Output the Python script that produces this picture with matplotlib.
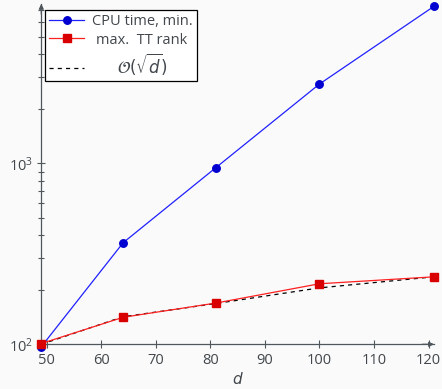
import matplotlib
matplotlib.use("Agg")
import matplotlib.pyplot as plt
from matplotlib.ticker import LogLocator, NullFormatter, FixedLocator

d_values = [49, 64, 81, 100, 121]
cpu_time = [97, 364, 946, 2742, 7370]
tt_rank = [101, 141, 169, 216, 236]
sqrt_ref = [100, 142, 168, 205, 236]
x_ticks = [50, 60, 70, 80, 90, 100, 110, 120]
labels = ["CPU time, min.", "max.  TT rank", r"$\mathcal{O}(\sqrt{d})$"]

plt.rcParams['font.family'] = ['Open Sans', 'DejaVu Sans']
plt.rcParams['mathtext.fontset'] = 'dejavusans'

bg = '#fafafa'
axc = '#50575c'
txtc = '#41474c'

fig = plt.figure(figsize=(4.42, 3.89), dpi=100, facecolor=bg)
ax = fig.add_axes([41.3/442, 1-344.3/389, (434-41.3)/442, (344.3-3.9)/389])
ax.set_facecolor(bg)

ax.plot(d_values, cpu_time, color='#2020ff', lw=0.9, marker='o', ms=5.4,
        mfc='#0000d0', mec='#0000d0', label=labels[0], zorder=3, clip_on=False)
ax.plot(d_values, tt_rank, color='#ff2020', lw=0.9, marker='s', ms=5.2,
        mfc='#d80000', mec='#d80000', label=labels[1], zorder=3, clip_on=False)
ax.plot(d_values, sqrt_ref, color='black', lw=0.9, ls=(0, (3.3, 3.3)),
        label=labels[2], zorder=2, clip_on=False)

ax.set_yscale('log')
ax.set_xlim(49, 121)
ax.set_ylim(100, 7600)
ax.xaxis.set_major_locator(FixedLocator(x_ticks))
ax.yaxis.set_major_locator(LogLocator(base=10))
ax.yaxis.set_minor_locator(LogLocator(base=10, subs=range(2, 10)))
ax.yaxis.set_minor_formatter(NullFormatter())

for s in ['top', 'right']:
    ax.spines[s].set_visible(False)
for s in ['left', 'bottom']:
    ax.spines[s].set_color(axc)
    ax.spines[s].set_linewidth(0.9)

ax.tick_params(axis='both', which='major', direction='inout', length=6,
               width=0.8, color=axc, labelcolor=txtc, labelsize=10.5, pad=3)
ax.tick_params(axis='y', which='minor', direction='inout', length=4,
               width=0.8, color=axc)

# axis arrows
ax.annotate('', xy=(1.0, 0), xycoords='axes fraction', xytext=(0.97, 0),
            arrowprops=dict(arrowstyle='-|>', color=axc, lw=0.9,
                            mutation_scale=7, shrinkA=0, shrinkB=0))
ax.annotate('', xy=(0, 1.0), xycoords='axes fraction', xytext=(0, 0.97),
            arrowprops=dict(arrowstyle='-|>', color=axc, lw=0.9,
                            mutation_scale=7, shrinkA=0, shrinkB=0))

ax.set_xlabel(r'$d$', color=txtc, fontsize=11, labelpad=3)

leg = ax.legend(loc='upper left', bbox_to_anchor=(45/442, 1-10/389),
                bbox_transform=fig.transFigure, frameon=True, fancybox=False,
                edgecolor='black', facecolor='white', framealpha=1,
                fontsize=10.5, borderpad=0.3, handlelength=2.4,
                handletextpad=0.5, labelspacing=0.22, borderaxespad=0)
leg.get_frame().set_linewidth(0.9)
for t in leg.get_texts():
    t.set_color(txtc)
leg.get_texts()[2].set_fontsize(12)

fig.canvas.draw()
r = fig.canvas.get_renderer()
texts = leg.get_texts()
widths = [t.get_window_extent(r).width for t in texts]
mw = max(widths)
for t, w in zip(texts, widths):
    t.set_position(((mw - w) / 2, 0))

fig.savefig('out.png', dpi=100, facecolor=bg)
